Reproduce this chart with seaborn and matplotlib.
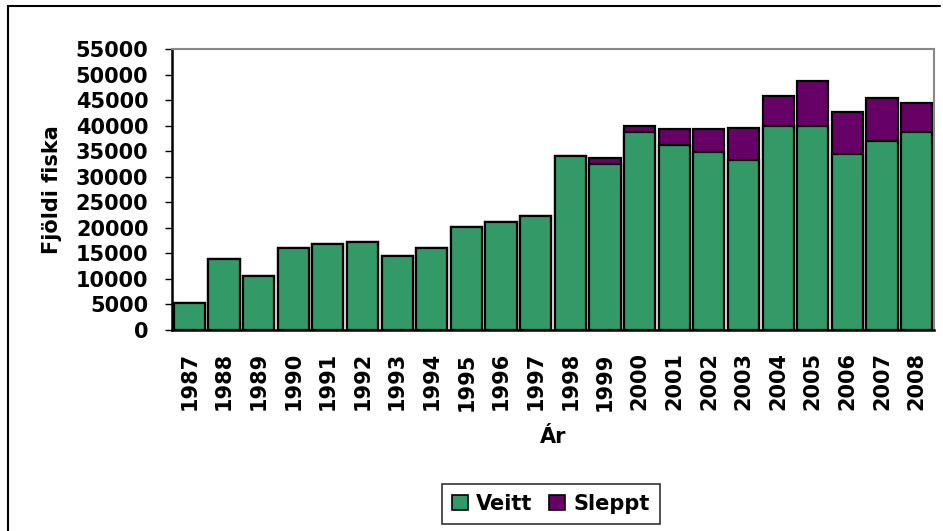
import matplotlib
matplotlib.use('Agg')
import matplotlib.pyplot as plt
from matplotlib.lines import Line2D
from matplotlib.patches import Patch
import numpy as np
import pandas as pd
import seaborn as sns

years = [str(y) for y in range(1987, 2009)]
veitt = [5350, 13850, 10600, 16050, 16750, 17150, 14550, 16050, 20100, 21200, 22300,
         34050, 32550, 38800, 36250, 34800, 33300, 39850, 39850, 34450, 37050, 38800]
sleppt = [0, 0, 0, 0, 0, 0, 0, 0, 0, 0, 0,
          0, 1200, 1200, 3000, 4500, 6300, 6000, 8950, 8150, 8400, 5600]
yticks = list(range(0, 55001, 5000))

green = '#339966'
purple = '#660066'

df = pd.DataFrame({'Ár': years, 'Veitt': veitt, 'Sleppt': sleppt})
df['Samtals'] = df['Veitt'] + df['Sleppt']

sns.set_style('white')
plt.rcParams['font.family'] = ['DejaVu Sans']
plt.rcParams['font.weight'] = 'bold'
plt.rcParams['text.color'] = 'black'
plt.rcParams['axes.labelcolor'] = 'black'
plt.rcParams['xtick.labelcolor'] = 'black'
plt.rcParams['ytick.labelcolor'] = 'black'

fig = plt.figure(figsize=(9.43, 5.31), dpi=100)
ax = fig.add_axes([0.1824, 0.3785, 0.9905 - 0.1824, 0.9077 - 0.3785])

sns.barplot(data=df, x='Ár', y='Samtals', color=purple, edgecolor='black',
            linewidth=1.6, width=0.9, saturation=1, ax=ax)
sns.barplot(data=df, x='Ár', y='Veitt', color=green, edgecolor='black',
            linewidth=1.6, width=0.9, saturation=1, ax=ax)

ax.set_xlim(-0.5, len(years) - 0.5)
ax.set_ylim(0, 55000)
ax.set_yticks(yticks)
ax.set_yticklabels([str(v) for v in yticks], fontsize=15, fontweight='bold')
ax.set_xticks(range(len(years)))
ax.set_xticklabels(years, rotation=90, fontsize=15, fontweight='bold')
ax.set_xticks(np.arange(-0.5, len(years), 1), minor=True)
ax.tick_params(axis='x', which='major', length=0, pad=16, labelcolor='black')
ax.tick_params(axis='x', which='minor', length=6, width=1, color='#555555', direction='out')
ax.tick_params(axis='y', length=5, width=1, color='black', direction='out', left=True,
               pad=12, labelcolor='black')

ax.set_xlabel('Ár', fontsize=15, fontweight='bold', labelpad=12, color='black')
ax.set_ylabel('Fjöldi fiska', fontsize=15, fontweight='bold', labelpad=10, color='black')

for side in ['left', 'bottom']:
    ax.spines[side].set_color('black')
    ax.spines[side].set_linewidth(1.8)
for side in ['top', 'right']:
    ax.spines[side].set_color('#888888')
    ax.spines[side].set_linewidth(1.5)

handles = [Patch(facecolor=green, edgecolor='black', linewidth=1.2, label='Veitt'),
           Patch(facecolor=purple, edgecolor='black', linewidth=1.2, label='Sleppt')]
leg = fig.legend(handles=handles, loc='center', bbox_to_anchor=(551 / 943, 1 - 504 / 531),
                 ncol=2, frameon=True, fancybox=False, edgecolor='black',
                 prop={'size': 15, 'weight': 'bold'}, handlelength=0.75, handleheight=0.75,
                 handletextpad=0.4, columnspacing=0.8, borderpad=0.5)
leg.get_frame().set_linewidth(1.2)
for t in leg.get_texts():
    t.set_color('black')

# outer chart frame
fig.add_artist(Line2D([8 / 943, 8 / 943], [0, 1 - 6 / 531], color='black', lw=1.5))
fig.add_artist(Line2D([8 / 943, 940 / 943], [1 - 6 / 531, 1 - 6 / 531], color='black', lw=1.5))

fig.savefig('out.png', dpi=100)
